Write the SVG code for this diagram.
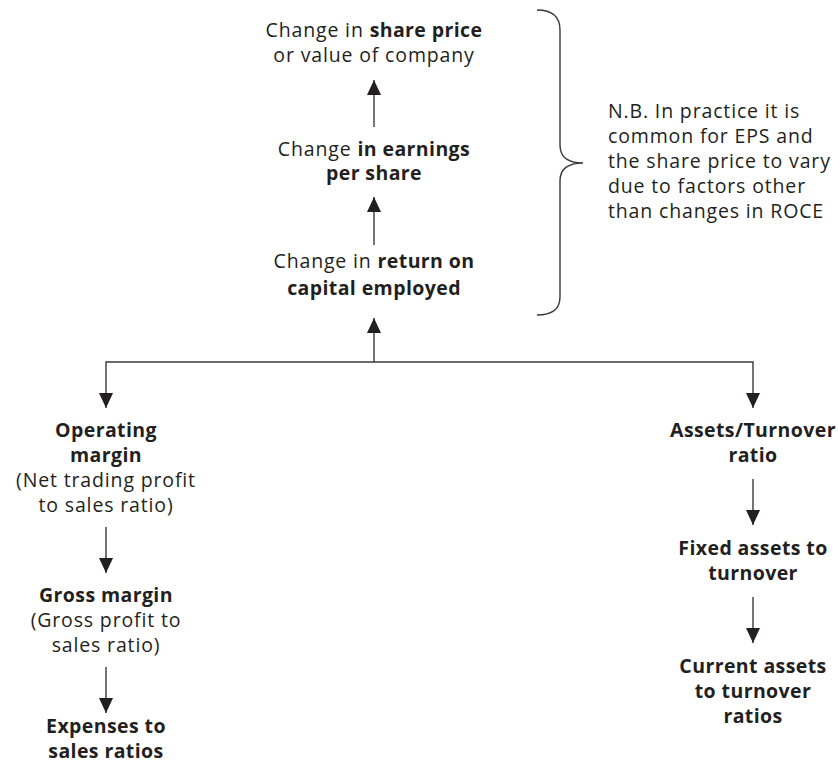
<svg xmlns="http://www.w3.org/2000/svg" width="838" height="764" viewBox="0 0 838 764">
  <defs>
    <style>
      text { font-family: "Open Sans", "Noto Sans", "Liberation Sans", sans-serif; font-size: 19.5px; letter-spacing: 0.85px; fill: #231f20; }
      .c { text-anchor: middle; }
      .b { font-weight: bold; letter-spacing: 0.4px; }
      .ln { fill: none; stroke: #3a3a3a; stroke-width: 1.4; }
    </style>
    <marker id="head" markerUnits="userSpaceOnUse" markerWidth="15" markerHeight="14" refX="15" refY="7" orient="auto">
      <path d="M0,0 L15,7 L0,14 z" fill="#231f20"/>
    </marker>
  </defs>
  <rect width="838" height="764" fill="#ffffff"/>

  <!-- connectors -->
  <g id="connectors">
    <line class="ln" x1="374" y1="127" x2="374" y2="80" marker-end="url(#head)"/>
    <line class="ln" x1="374" y1="245" x2="374" y2="197" marker-end="url(#head)"/>
    <line class="ln" x1="374" y1="362" x2="374" y2="318" marker-end="url(#head)"/>
    <path class="ln" d="M374,362 H106 V408" marker-end="url(#head)"/>
    <path class="ln" d="M374,362 H753 V408" marker-end="url(#head)"/>
    <line class="ln" x1="106" y1="527" x2="106" y2="573" marker-end="url(#head)"/>
    <line class="ln" x1="106" y1="667" x2="106" y2="713" marker-end="url(#head)"/>
    <line class="ln" x1="753" y1="479" x2="753" y2="525" marker-end="url(#head)"/>
    <line class="ln" x1="753" y1="597" x2="753" y2="643" marker-end="url(#head)"/>
  </g>

  <!-- curly brace grouping the top chain -->
  <g id="brace">
    <path class="ln" d="M537,10 C552,10 560,16 560,30 V145 C560,157 568,163 583,163 C568,163 560,169 560,181 V297 C560,309 552,315 537,315"/>
  </g>

  <g id="share-price">
    <text class="c" x="374" y="37">Change in <tspan class="b">share price</tspan></text>
    <text class="c" x="374" y="62">or value of company</text>
  </g>

  <g id="eps">
    <text class="c" x="374" y="156">Change <tspan class="b">in earnings</tspan></text>
    <text class="c b" x="374" y="180">per share</text>
  </g>

  <g id="roce">
    <text class="c" x="374" y="268">Change in <tspan class="b">return on</tspan></text>
    <text class="c b" x="374" y="295">capital employed</text>
  </g>

  <g id="note">
    <text x="608" y="118">N.B. In practice it is</text>
    <text x="608" y="143">common for EPS and</text>
    <text x="608" y="168">the share price to vary</text>
    <text x="608" y="193">due to factors other</text>
    <text x="608" y="218">than changes in ROCE</text>
  </g>

  <g id="operating-margin">
    <text class="c b" x="106" y="437">Operating</text>
    <text class="c b" x="106" y="462">margin</text>
    <text class="c" x="106" y="487">(Net trading profit</text>
    <text class="c" x="106" y="512">to sales ratio)</text>
  </g>

  <g id="gross-margin">
    <text class="c b" x="106" y="602">Gross margin</text>
    <text class="c" x="106" y="627">(Gross profit to</text>
    <text class="c" x="106" y="652">sales ratio)</text>
  </g>

  <g id="expenses">
    <text class="c b" x="106" y="733">Expenses to</text>
    <text class="c b" x="106" y="758">sales ratios</text>
  </g>

  <g id="assets-turnover">
    <text class="c b" x="753" y="437">Assets/Turnover</text>
    <text class="c b" x="753" y="462">ratio</text>
  </g>

  <g id="fixed-assets">
    <text class="c b" x="753" y="555">Fixed assets to</text>
    <text class="c b" x="753" y="580">turnover</text>
  </g>

  <g id="current-assets">
    <text class="c b" x="753" y="673">Current assets</text>
    <text class="c b" x="753" y="698">to turnover</text>
    <text class="c b" x="753" y="723">ratios</text>
  </g>
</svg>
